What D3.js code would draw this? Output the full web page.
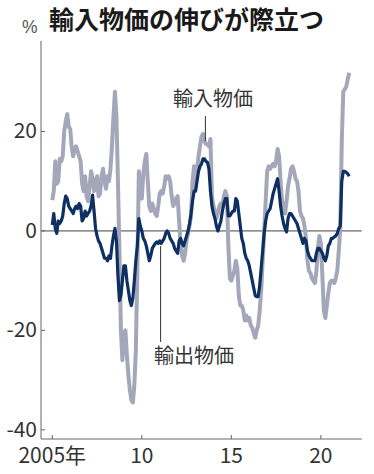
<!DOCTYPE html>
<html>
<head>
<meta charset="utf-8">
<script src="https://cdn.jsdelivr.net/npm/d3@7"></script>
<style>
	html, body { margin: 0; padding: 0; background: #fff; }
	svg { display: block; }
	.num { font-family: "Liberation Sans Narrow", "Noto Sans CJK JP", sans-serif; font-size: 21px; fill: #333; }
	.jp { font-family: "Noto Sans CJK JP", sans-serif; }
</style>
</head>
<body>
<svg id="chart" width="374" height="474"></svg>
<script>
var startYear = 2005;

// 輸入物価 前年同月比 (%), 2005年1月から月次
var importPrice = [
	6.2, 8, 14, 9.5, 10, 14.5, 14, 15, 20, 22, 23.5, 21,
	20.5, 17, 15, 16.5, 17, 16, 15, 14, 9.5, 8, 11, 7,
	6, 9, 12, 10.5, 8, 9.5, 11, 7, 7.5, 11, 12.5, 10,
	8.5, 11, 10, 12.5, 17, 23, 28, 23, 10, -4, -20, -26,
	-21, -20, -25, -29, -32, -34, -34.5, -31, -24, -8, 12, 8,
	6.5, 11.5, 14, 15.5, 10, 5, 4, 5.5, 4.5, 3.5, 3, 5,
	7.5, 8, 7.5, 9, 11, 10.5, 11, 10, 7, 5, 5.5, 6.5,
	7, 2, -3, -5, -6, -4.5, -2, -0.5, 1, 3, 10, 13,
	8.5, 12, 15, 17, 19, 19.5, 18, 17.5, 17.5, 17, 18.5, 7,
	5, 4, 2.5, 3.5, 5, 5.5, 5, 7, 8, 7, -3, -9.5,
	-10, -9, -8, -6, -7.5, -13, -15, -15, -16, -18, -17, -18,
	-17.5, -19, -19.5, -20.5, -21.5, -20, -19, -16, -12, -6, 0, 6,
	12, 13, 12.5, 13, 13.5, 13, 14, 16.5, 15, 10, 6, 5,
	3.5, 6, 9, 10.5, 12.5, 13, 12, 10.5, 10, 8, 4, 3,
	2.5, 1, -1.5, -6, -8, -8.5, -9.5, -10, -10.5, -8, -3.5, -1,
	-2.5, -9, -16, -17.5, -15, -12.5, -10.5, -10, -10, -10.5, -9.5, -8,
	-4, 0.5, 18, 28, 28.5, 29, 30.5, 31.8
];

// 輸出物価 前年同月比 (%)
var exportPrice = [
	1.2, 3.5, 0.5, -0.5, 2, 1.5, 2, 3, 5.5, 7, 6.5, 5,
	4.5, 4, 3.5, 4.5, 5, 4.5, 5.5, 5, 2, 2.5, 4, 3,
	3.5, 4, 5, 7.2, 4, 0.5, -1, -2, -2.5, -3.5, -4.5, -5.5,
	-5.5, -6, -5, -5.5, -3, -1, 0.5, -2, -9, -14, -13, -10,
	-7, -7, -10, -12, -14, -15, -13.5, -10, -6, -3, 2.5, 1,
	0, -1.5, -2, -3, -4.5, -6, -5, -3.5, -3, -2.5, -2.2, -2.5,
	-2, -2.5, -2, -1.5, -0.5, 0, -0.5, -1.5, -2, -2.5, -3.5, -4,
	-4.5, -2, -1.5, -2.5, -3, -2, -1, 0, 1.5, 3.5, 6, 8,
	8, 10, 12, 13, 13.5, 14.5, 14.5, 14, 13.8, 12.5, 8, 5,
	3.5, 2.5, 1, 0, 1, 2, 4, 5.5, 6.5, 6.5, 3, 3,
	3.5, 4, 4, 6.5, 6, 3.5, 1, -1.5, -2.5, -4.5, -5.5, -6,
	-7, -8.5, -10, -11.5, -13, -13.2, -13.2, -11, -7.5, -4, -0.5, 2,
	3.5, 4, 4.5, 6, 7.5, 8.5, 9.5, 10.5, 8, 5, 3, 1.5,
	0.5, -0.2, 2.5, 3.5, 3.5, 3, 2.5, 2, 1.5, 0.5, -0.5, -1.5,
	-2.5, -1.5, -2, -4, -5, -5.5, -6, -6, -6, -4.5, -3.5, -3.5,
	-4, -4.5, -5.5, -6, -5, -3, -2.5, -1.5, -1.5, -1.2, -1, -0.5,
	0.5, 1, 10, 12, 12, 11.8, 11.5, 11
];

var yTicks = [20, 0, -20, -40];
var yTickLabels = ["20", "0", "-20", "-40"];
var xTicks = [2005, 2010, 2015, 2020];
var xTickLabels = ["2005年", "10", "15", "20"];

var svg = d3.select("#chart");

var x = d3.scaleLinear().domain([2004.37, 2022.28]).range([41, 361.7]);
var y = d3.scaleLinear().domain([-41.85, 38.2]).range([439, 41]);

function month_to_year(i) {
	return startYear + i / 12;
}

// title
svg.append("text")
	.attr("class", "jp")
	.attr("x", 49)
	.attr("y", 29)
	.attr("font-size", 25)
	.attr("font-weight", "bold")
	.attr("fill", "#1a1a1a")
	.text("輸入物価の伸びが際立つ");

svg.append("text")
	.attr("x", 22)
	.attr("y", 33)
	.attr("font-family", "Liberation Sans, sans-serif")
	.attr("font-size", 17.5)
	.attr("fill", "#555")
	.text("%");

// zero line
svg.append("line")
	.attr("x1", x.range()[0]).attr("x2", x.range()[1])
	.attr("y1", y(0)).attr("y2", y(0))
	.attr("stroke", "#444").attr("stroke-width", 1);

// axes
svg.append("line")
	.attr("x1", 41).attr("x2", 41)
	.attr("y1", y.range()[1]).attr("y2", y.range()[0])
	.attr("stroke", "#666").attr("stroke-width", 1);
svg.append("line")
	.attr("x1", 41).attr("x2", x.range()[1])
	.attr("y1", y.range()[0]).attr("y2", y.range()[0])
	.attr("stroke", "#666").attr("stroke-width", 1);

yTicks.forEach(function(v, k) {
	svg.append("line")
		.attr("x1", 41).attr("x2", 45)
		.attr("y1", y(v)).attr("y2", y(v))
		.attr("stroke", "#666");
	svg.append("text")
		.attr("class", "num")
		.attr("x", 37)
		.attr("y", y(v) + 7)
		.attr("text-anchor", "end")
		.text(yTickLabels[k]);
});

xTicks.forEach(function(t, k) {
	svg.append("line")
		.attr("x1", x(t)).attr("x2", x(t))
		.attr("y1", y.range()[0]).attr("y2", y.range()[0] - 4)
		.attr("stroke", "#666");
	svg.append("text")
		.attr("class", "num")
		.attr("x", x(t))
		.attr("y", 463)
		.attr("font-size", 20)
		.attr("text-anchor", "middle")
		.text(xTickLabels[k]);
});

var line = d3.line()
	.x(function(d, i) { return x(month_to_year(i)); })
	.y(function(d) { return y(d); });

svg.append("path")
	.attr("d", line(importPrice))
	.attr("fill", "none")
	.attr("stroke", "#a4a7b9")
	.attr("stroke-width", 4)
	.attr("stroke-linejoin", "round");

svg.append("path")
	.attr("d", line(exportPrice))
	.attr("fill", "none")
	.attr("stroke", "#0d2f61")
	.attr("stroke-width", 3.2)
	.attr("stroke-linejoin", "round");

// labels with leader lines
function label(text, tx, ty, lx, ly1, ly2) {
	svg.append("line")
		.attr("x1", lx).attr("x2", lx)
		.attr("y1", ly1).attr("y2", ly2)
		.attr("stroke", "#333").attr("stroke-width", 1);
	svg.append("text")
		.attr("class", "jp")
		.attr("x", tx)
		.attr("y", ty)
		.attr("font-size", 20)
		.attr("fill", "#333")
		.text(text);
}

label("輸入物価", 173, 106, x(2013.55), 116, 141);
label("輸出物価", 154, 363, x(2011.05), 246, 342);
</script>
</body>
</html>
